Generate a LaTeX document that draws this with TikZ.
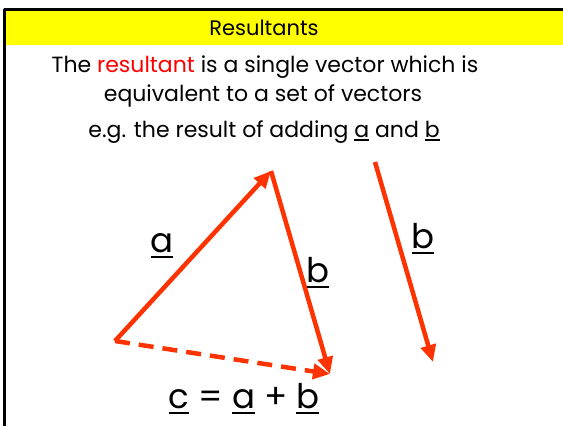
\documentclass[tikz,border=0pt]{standalone}
\usepackage{fontspec}
\setmainfont{Poppins}
\usetikzlibrary{arrows.meta}
\definecolor{vecred}{RGB}{255,51,0}
\definecolor{bandyellow}{RGB}{255,255,0}
\newcommand{\vecul}[1]{\setbox0\hbox{#1}\rlap{\rule[-0.19em]{\wd0}{0.08em}}\box0\relax}
\begin{document}
\begin{tikzpicture}[x=1pt, y=-1pt, line join=round,
    vec/.style={line width=4.5pt, color=vecred, -{Triangle[length=17pt,width=15pt]}},
    lbl/.style={font=\fontsize{34}{40}\selectfont, anchor=base}]
			\useasboundingbox (0,0) rectangle (563,426);
			\fill[bandyellow] (5,10) rectangle (563,45);
			\draw[line width=3pt] (4,426) -- (4,9) -- (563,9);
			\node[font=\fontsize{21}{24}\selectfont, anchor=base] (title) at (264,35) {Resultants};
			\node[font=\fontsize{22}{26}\selectfont, anchor=base] (line1) at (265,72) {The \textcolor{red}{resultant} is a single vector which is};
			\node[font=\fontsize{22}{26}\selectfont, anchor=base] (line2) at (263,101) {equivalent to a set of vectors};
			\node[font=\fontsize{22}{26}\selectfont, anchor=base] (line3) at (264,137) {e.g. the result of adding \vecul{a} and \vecul{b}};
			% triangle of vectors
			\coordinate (O) at (115,341);
			\coordinate (A) at (271,171);
			\coordinate (B) at (330,374);
			\draw[vec] (O) -- (A);
			\draw[vec] (A) -- (B);
			\draw[vec, dash pattern=on 15pt off 9pt] (O) -- (B);
			% free vector b
			\coordinate (P) at (375,162);
			\coordinate (Q) at (433,362);
			\draw[vec] (P) -- (Q);
			\node[lbl] (la) at (162,252) {\vecul{a}};
			\node[lbl] (lb) at (318,282) {\vecul{b}};
			\node[lbl] (lfree) at (423,248) {\vecul{b}};
			\node[lbl] (lc) at (244,408) {\vecul{c} = \vecul{a} + \vecul{b}};
		\end{tikzpicture}
\end{document}
